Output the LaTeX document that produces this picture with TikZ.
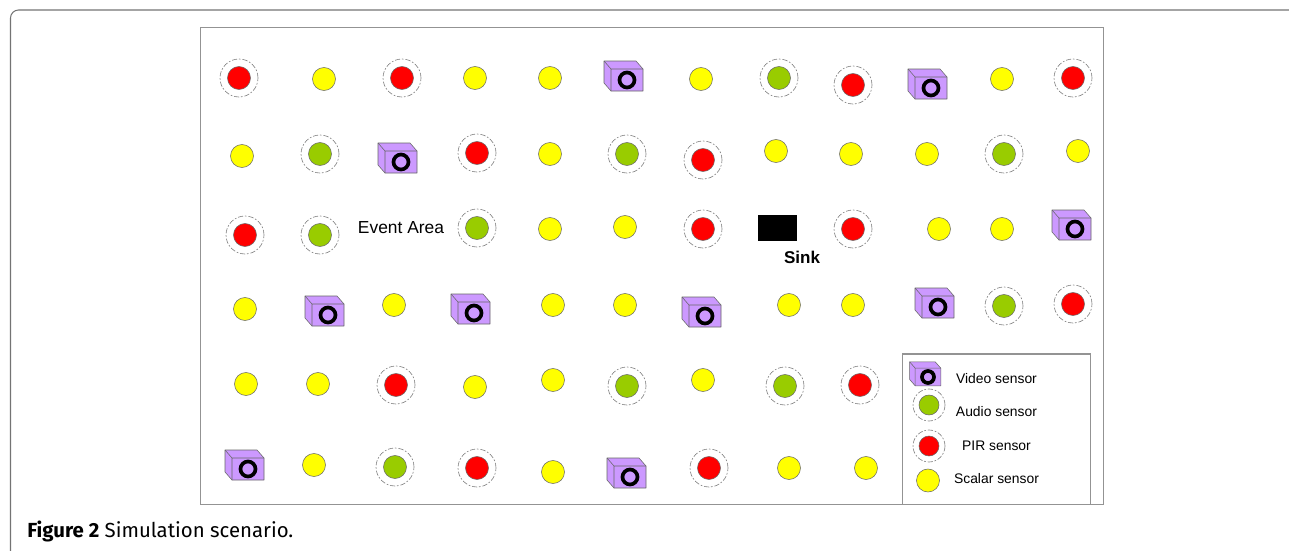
\documentclass[tikz,border=0pt]{standalone}
\usepackage{fontspec}
\setmainfont{Liberation Sans}
\newfontfamily\captionfont{Fira Sans}
\usetikzlibrary{positioning}
\definecolor{videocol}{HTML}{CC99FF}
\definecolor{audiocol}{HTML}{99CC00}
\definecolor{scalarcol}{HTML}{FFFF00}
\definecolor{pircol}{HTML}{FF0000}
\tikzset{
    sensor/.style={circle,draw=gray!80!black,line width=0.3pt,inner sep=0pt,minimum size=0.46cm},
    scalarsensor/.style={sensor,fill=scalarcol},
    audiosensor/.style={sensor,fill=audiocol},
    pirsensor/.style={sensor,fill=pircol},
    sensorring/.style={circle,draw=gray,line width=0.35pt,inner sep=0pt,minimum size=0.76cm,
        dash pattern=on 3pt off 1pt on 1pt off 1pt},
    framebox/.style={draw=gray!85,line width=0.6pt},
    maintext/.style={font=\fontsize{9.9}{12}\selectfont,inner sep=0pt},
    legendtext/.style={font=\fontsize{7.9}{10}\selectfont,inner sep=0pt},
    videosensor/.pic={
        \draw[fill=videocol,draw=gray!80!black,line width=0.3pt,line join=round]
            (-23,-19) -- (9,-19) -- (16,-11) -- (16,11) -- (-16,11) -- (-23,3) -- cycle;
        \draw[draw=gray!80!black,line width=0.3pt] (-23,-19) -- (-16,-11) -- (16,-11) (-16,-11) -- (-16,11);
        \draw[line width=2.1pt] (0,0) circle (7.5);
    }
}
\begin{document}
\begin{tikzpicture}[x=0.02cm,y=-0.02cm]
    \useasboundingbox (0,0) rectangle (1289,551);

    % Carte et cadre
    \draw[draw=gray!90!black,line width=0.6pt,rounded corners=0.16cm] (10.5,560) -- (10.5,10) -- (1300,10);
    \node[framebox,minimum width=18.06cm,minimum height=9.55cm,inner sep=0pt] (area) at (652,265.75) {};

    % Capteurs scalaires
    \foreach \x/\y [count=\i] in {324/79,475/78,550/78,701/79,1002/79,
        242/156,550/154,776/151,851/154,927/154,1078/151,
        550/229,625/227,939/229,1002/229,
        245/309,394/305,553/305,625/305,789/305,853/305,
        246/384,318/384,475/387,553/380,703/380,
        314/465,553/472,789/468,866/468}
        \node[scalarsensor] (s\i) at (\x,\y) {};

    % Capteurs audio
    \foreach \x/\y [count=\i] in {779/78,320/154,627/154,1004/154,320/235,477/228,
        1004/306,627/386,785/386,395/467} {
        \node[sensorring] (ar\i) at (\x,\y) {};
        \node[audiosensor] (a\i) at (\x,\y) {};
    }

    % Capteurs PIR
    \foreach \x/\y [count=\i] in {239/78,402/78,853/85,1073/78,477/153,703/160,
        245/235,703/229,853/229,1073/304,396/385,860/385,477/468,709/468} {
        \node[sensorring] (pr\i) at (\x,\y) {};
        \node[pirsensor] (p\i) at (\x,\y) {};
    }

    % Capteurs video
    \foreach \x/\y [count=\i] in {627/80,931/88,401/162,1075/229,328/315,474/313,
        705/316,938/307,248/469,630/477}
        \pic (v\i) at (\x,\y) {videosensor};

    % Puits
    \node[fill=black,minimum width=0.78cm,minimum height=0.52cm,inner sep=0pt] (sink) at (777,228) {};
    \node[maintext,font=\fontsize{9.7}{12}\selectfont\bfseries] (sinklabel) at (802,257) {Sink};
    \node[maintext] (event) at (401,227.5) {Event Area};

    % Legende
    \draw[framebox] (902.5,504.5) -- (902.5,354) -- (1090.5,354) -- (1090.5,504.5);
    \pic[scale=0.8] (lv) at (928,377) {videosensor};
    \node[sensorring,minimum size=0.64cm] (lar) at (929,405) {};
    \node[audiosensor,minimum size=0.4cm] (la) at (929,405) {};
    \node[sensorring,minimum size=0.64cm] (lpr) at (929,446) {};
    \node[pirsensor,minimum size=0.4cm] (lp) at (929,446) {};
    \node[scalarsensor] (ls) at (928,480.5) {};
    \node[legendtext] (lvt) at (996.5,378.5) {Video sensor};
    \node[legendtext] (lat) at (996.5,412) {Audio sensor};
    \node[legendtext] (lpt) at (996.5,445.5) {PIR sensor};
    \node[legendtext] (lst) at (996.5,479) {Scalar sensor};

    % Titre
    \node[anchor=west,inner sep=0pt,font=\captionfont\fontsize{11.6}{14}\selectfont] (caption) at (27,531) {\textbf{Figure 2} Simulation scenario.};
\end{tikzpicture}
\end{document}
